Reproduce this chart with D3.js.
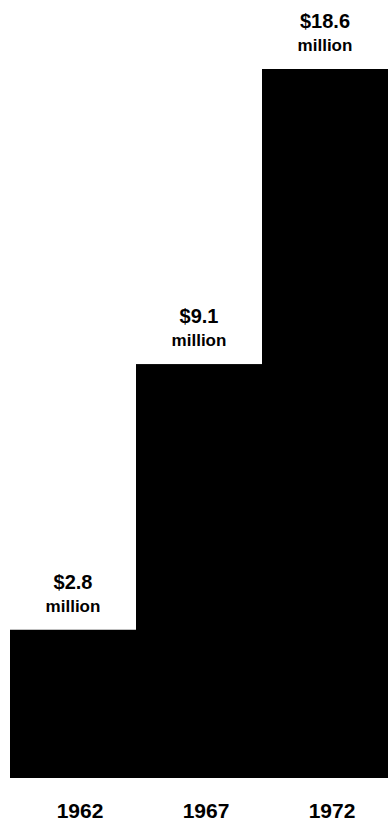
<!DOCTYPE html>
<html>
<head>
<meta charset="utf-8">
<script src="https://cdn.jsdelivr.net/npm/d3@7"></script>
<style>
    body { margin: 0; background: white; }
</style>
</head>
<body>
<script>

const years = ['1962', '1967', '1972']
const amounts = [2.8, 9.1, 18.6]
const amountLabels = ['$2.8', '$9.1', '$18.6']
const unitLabel = 'million'

const width = 388
const height = 825

let chart = {}

function setupChart (){

    chart.left = 10
    chart.right = width
    chart.bottom = 778
    chart.top = 69

    const svg = d3.select('body')
        .append('svg')
        .attr('width', width)
        .attr('height', height)

    const x = d3.scaleBand()
        .domain(years)
        .range([chart.left, chart.right])
        .padding(0)

    // steps in the original are not drawn to a linear scale
    const y = d3.scaleSymlog()
        .constant(16)
        .domain([0, d3.max(amounts)])
        .range([chart.bottom, chart.top])

    const data = years.map((d, i) => ({year: d, amount: amounts[i], label: amountLabels[i]}))

    addBars(svg, data, x, y)
    addValueLabels(svg, data, x, y)
    addYearLabels(svg, x)
}


function addBars (svg, data, x, y){

    svg.selectAll('rect.bar')
        .data(data, d => d.year)
        .join('rect')
        .attr('class', 'bar')
        .attr('x', d => x(d.year))
        .attr('y', d => y(d.amount))
        .attr('width', x.bandwidth() + 0.5)
        .attr('height', d => y(0) - y(d.amount))
        .attr('fill', '#000')
}


function addValueLabels (svg, data, x, y){

    const groups = svg.selectAll('g.valueLabel')
        .data(data, d => d.year)
        .join('g')
        .attr('class', 'valueLabel')
        .attr('transform', d => 'translate(' + (x(d.year) + x.bandwidth() / 2) + ',' + y(d.amount) + ')')

    groups.append('text')
        .text(d => d.label)
        .attr('y', -41)
        .style('font-family', '"Liberation Sans", Arial, sans-serif')
        .style('font-weight', 'bold')
        .style('font-size', '20px')
        .style('text-anchor', 'middle')
        .attr('fill', '#000')

    groups.append('text')
        .text(unitLabel)
        .attr('y', -18)
        .style('font-family', '"Liberation Sans", Arial, sans-serif')
        .style('font-weight', 'bold')
        .style('font-size', '17px')
        .style('text-anchor', 'middle')
        .attr('fill', '#000')
}


function addYearLabels (svg, x){

    svg.selectAll('text.year')
        .data(years)
        .join('text')
        .attr('class', 'year')
        .text(d => d)
        .attr('x', d => x(d) + x.bandwidth() / 2 + 7)
        .attr('y', chart.bottom + 40)
        .style('font-family', '"Liberation Sans", Arial, sans-serif')
        .style('font-weight', 'bold')
        .style('font-size', '21px')
        .style('text-anchor', 'middle')
        .attr('fill', '#000')
}

setupChart()

</script>
</body>
</html>
